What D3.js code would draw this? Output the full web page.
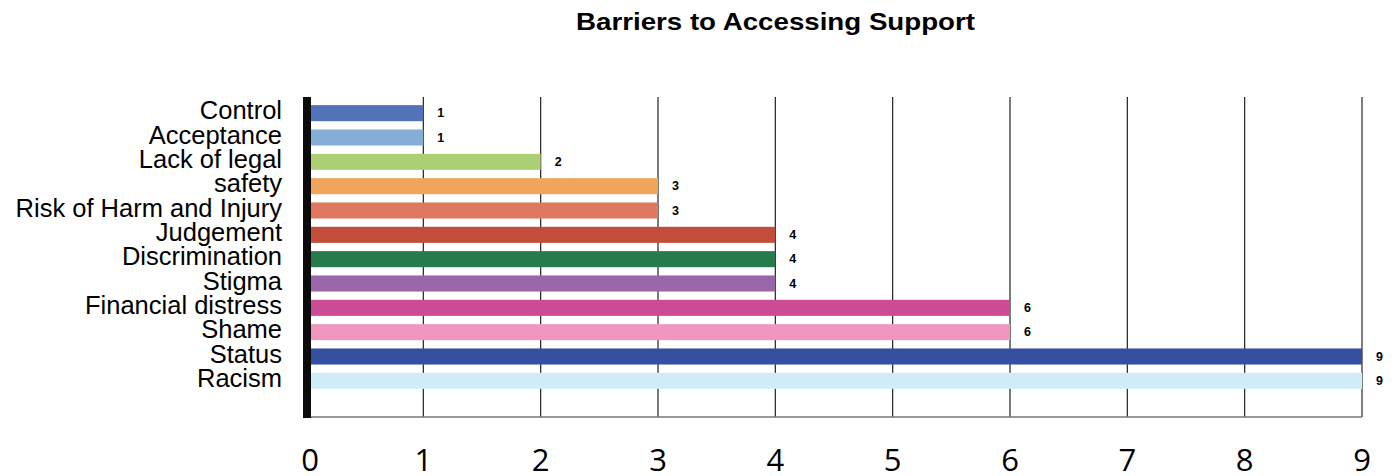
<!DOCTYPE html>
<html>
<head>
    <title>Barriers to Accessing Support</title>
    <script src="https://cdn.jsdelivr.net/npm/d3@7"></script>
    <style>
        body { margin: 0; background: #fff; }
    </style>
</head>
<body>
    <svg width="1398" height="476" id="mainsvg"></svg>
    <script>
        // data
        const categories = ['Control', 'Acceptance', 'Lack of legal', 'safety', 'Risk of Harm and Injury',
            'Judgement', 'Discrimination', 'Stigma', 'Financial distress', 'Shame', 'Status', 'Racism'];
        const values = [1, 1, 2, 3, 3, 4, 4, 4, 6, 6, 9, 9];
        const colors = ['#5373b8', '#84aed8', '#abcf72', '#f0a45c', '#e0775f', '#c24d3a',
            '#277a4a', '#9966aa', '#cc4b95', '#f096bf', '#3550a0', '#d1ecf9'];
        const xTicks = [0, 1, 2, 3, 4, 5, 6, 7, 8, 9];

        const svg = d3.select('svg');
        const plotTop = 97, plotBottom = 417;

        const x = d3.scaleLinear().domain([0, 9]).range([306, 1362]);
        const y = d3.scaleBand().domain(categories).range([101, 393]).paddingInner(0.34).paddingOuter(0.17);

        // title
        svg.append('text')
            .attr('x', 576).attr('y', 30)
            .attr('textLength', 399).attr('lengthAdjust', 'spacingAndGlyphs')
            .attr('font-family', 'Liberation Sans, Arial, sans-serif')
            .attr('font-weight', 'bold').attr('font-size', '24px')
            .text('Barriers to Accessing Support');

        // grid lines
        svg.append('g').selectAll('line').data(xTicks.filter(d => d > 0 && d < 9)).join('line')
            .attr('x1', d => x(d)).attr('x2', d => x(d))
            .attr('y1', plotTop).attr('y2', plotBottom)
            .attr('stroke', '#222').attr('stroke-width', 1.2);

        // frame: right and bottom
        svg.append('line')
            .attr('x1', x(9)).attr('x2', x(9)).attr('y1', plotTop).attr('y2', plotBottom)
            .attr('stroke', '#555').attr('stroke-width', 1.5);
        svg.append('line')
            .attr('x1', 303).attr('x2', x(9)).attr('y1', plotBottom).attr('y2', plotBottom)
            .attr('stroke', '#777').attr('stroke-width', 1.5);

        // bars
        svg.append('g').selectAll('rect').data(categories).join('rect')
            .attr('x', x(0))
            .attr('y', d => y(d))
            .attr('width', (d, i) => x(values[i]) - x(0))
            .attr('height', y.bandwidth())
            .attr('fill', (d, i) => colors[i]);

        // thick zero axis
        svg.append('rect')
            .attr('x', 303).attr('y', plotTop)
            .attr('width', 8).attr('height', plotBottom - plotTop + 1)
            .attr('fill', '#0b0b0b');

        // value labels
        svg.append('g').selectAll('text').data(categories).join('text')
            .attr('x', (d, i) => x(values[i]) + 14)
            .attr('y', d => y(d) + y.bandwidth() / 2 + 4)
            .attr('font-family', 'Liberation Sans, Arial, sans-serif')
            .attr('font-weight', 'bold').attr('font-size', '12.5px')
            .text((d, i) => values[i]);

        // category labels
        svg.append('g').selectAll('text').data(categories).join('text')
            .attr('x', 282)
            .attr('y', d => y(d) + y.bandwidth() / 2 + 6)
            .attr('text-anchor', 'end')
            .attr('font-family', 'Liberation Sans, Arial, sans-serif')
            .attr('font-size', '25.5px')
            .text(d => d);

        // x tick labels
        svg.append('g').selectAll('text').data(xTicks).join('text')
            .attr('x', d => x(d) + (d === 0 ? 4 : 0))
            .attr('y', 471)
            .attr('text-anchor', 'middle')
            .attr('font-family', 'Open Sans, Noto Sans, sans-serif')
            .attr('font-size', '31px')
            .text(d => d);
    </script>
</body>
</html>
